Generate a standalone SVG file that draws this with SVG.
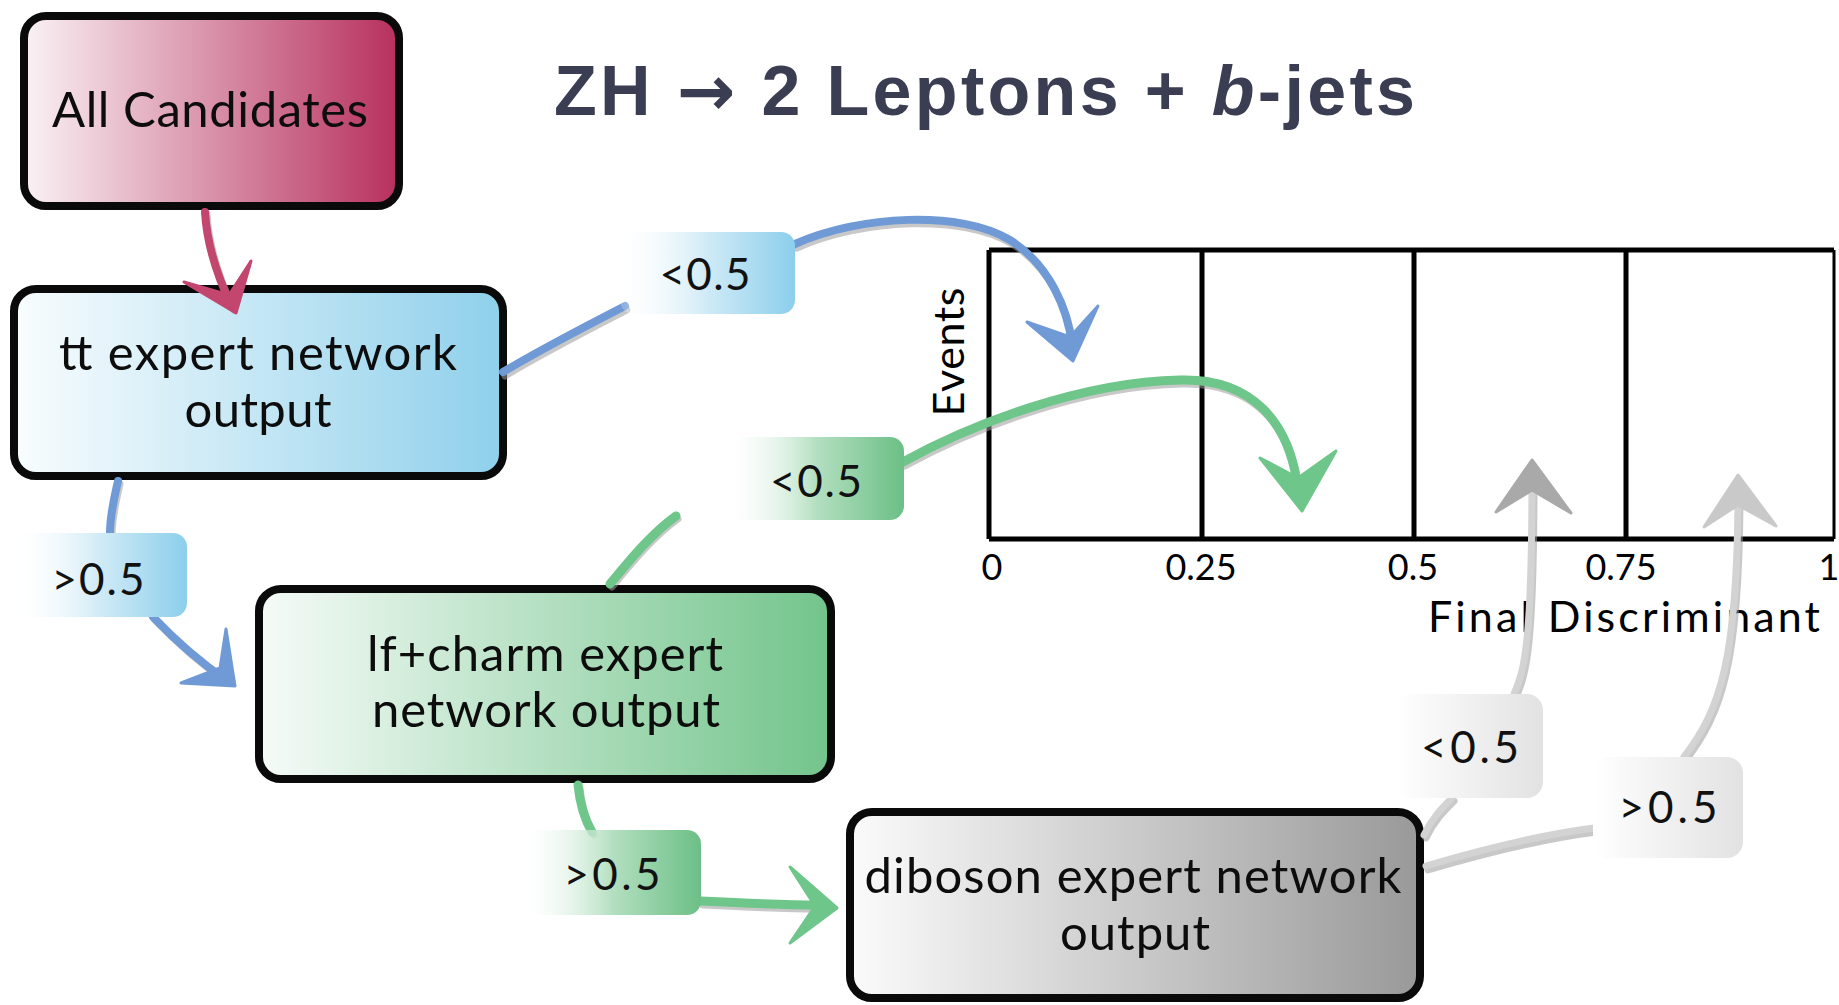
<svg xmlns="http://www.w3.org/2000/svg" width="1839" height="1005" viewBox="0 0 1839 1005">
<defs>
  <linearGradient id="gRed" x1="0" y1="0" x2="1" y2="0">
    <stop offset="0" stop-color="#faf2f5"/><stop offset="1" stop-color="#b7305d"/>
  </linearGradient>
  <linearGradient id="gBlue" x1="0" y1="0" x2="1" y2="0">
    <stop offset="0" stop-color="#f9fdfe"/><stop offset="1" stop-color="#8fd0eb"/>
  </linearGradient>
  <linearGradient id="gGreen" x1="0" y1="0" x2="1" y2="0">
    <stop offset="0" stop-color="#f6fbf8"/><stop offset="1" stop-color="#72c48b"/>
  </linearGradient>
  <linearGradient id="gGrey" x1="0" y1="0" x2="1" y2="0">
    <stop offset="0" stop-color="#fbfbfb"/><stop offset="1" stop-color="#999999"/>
  </linearGradient>
  <linearGradient id="pBlue" x1="0" y1="0" x2="1" y2="0">
    <stop offset="0" stop-color="#ffffff" stop-opacity="0.2"/><stop offset="0.5" stop-color="#cfeaf6"/><stop offset="1" stop-color="#8ccfec"/>
  </linearGradient>
  <linearGradient id="pGreen" x1="0" y1="0" x2="1" y2="0">
    <stop offset="0" stop-color="#ffffff" stop-opacity="0.2"/><stop offset="0.5" stop-color="#b3dfc0"/><stop offset="1" stop-color="#6cbf86"/>
  </linearGradient>
  <linearGradient id="pGrey" x1="0" y1="0" x2="1" y2="0">
    <stop offset="0" stop-color="#ffffff"/><stop offset="1" stop-color="#e2e2e2"/>
  </linearGradient>
</defs>
<style>
  .box { stroke: #0a0a0a; stroke-width: 8; }
  .bt { font-family: Lato, "Open Sans", sans-serif; font-size: 49px; fill: #0d0d0d; text-anchor: middle; }
  .pt { font-family: Lato, "Open Sans", sans-serif; font-size: 44px; fill: #111; text-anchor: middle; }
  .ax { stroke: #000; stroke-width: 5; fill: none; }
  .tk { font-family: Lato, "Open Sans", sans-serif; font-size: 36px; fill: #000; text-anchor: middle; }
  .al { font-family: Lato, "Open Sans", sans-serif; font-size: 43px; fill: #000; }
  .sh { fill: none; stroke: #9a9a9a; stroke-opacity: 0.55; stroke-linecap: round; stroke-width: 7; }
  .c { fill: none; stroke-linecap: round; }
  .red { stroke: #c3466f; stroke-width: 8; }
  .blue { stroke: #6f9ad6; stroke-width: 8; }
  .green { stroke: #6ec68a; stroke-width: 9; }
  .grey { stroke: #d3d3d3; stroke-width: 7; }
  .hred { fill: #c3466f; stroke: #c3466f; stroke-width: 3; stroke-linejoin: round; }
  .hblue { fill: #6f9ad6; stroke: #6f9ad6; stroke-width: 3; stroke-linejoin: round; }
  .hgreen { fill: #6ec68a; stroke: #6ec68a; stroke-width: 3; stroke-linejoin: round; }
  .hgrey1 { fill: #a9a9a9; stroke: #a9a9a9; stroke-width: 3; stroke-linejoin: round; }
  .hgrey2 { fill: #c9c9c9; stroke: #c9c9c9; stroke-width: 3; stroke-linejoin: round; }
</style>
<rect width="1839" height="1005" fill="#ffffff"/>

<text x="554" y="115" font-family="'Liberation Sans', Arial, sans-serif" font-weight="bold" font-size="70" fill="#3b3d52" textLength="861" lengthAdjust="spacing">ZH <tspan font-family="'DejaVu Sans', sans-serif">→</tspan> 2 Leptons + <tspan font-style="italic">b</tspan>-jets</text>

<g id="histogram">
  <path class="ax" d="M989,250 H1834 M989,250 V539 M989,539 H1834 M1202,250 V539 M1414,250 V539 M1626,250 V539"/>
  <path d="M1834,250 V539" stroke="#000" stroke-width="3"/>
  <text class="tk" x="992" y="580">0</text>
  <text class="tk" x="1201" y="580">0.25</text>
  <text class="tk" x="1413" y="580">0.5</text>
  <text class="tk" x="1621" y="580">0.75</text>
  <text class="tk" x="1829" y="580" text-anchor="end">1</text>
  <text class="al" x="1428" y="632" textLength="392" lengthAdjust="spacing">Final Discriminant</text>
  <text class="al" x="964" y="352" text-anchor="middle" transform="rotate(-90 964 352)" textLength="129" lengthAdjust="spacing">Events</text>
</g>

<g id="node-all">
  <rect class="box" x="24" y="16" width="375" height="190" rx="22" fill="url(#gRed)"/>
  <text class="bt" x="210" y="127" font-size="50" textLength="316" lengthAdjust="spacing">All Candidates</text>
</g>
<g id="node-tt">
  <rect class="box" x="14" y="289" width="489" height="187" rx="22" fill="url(#gBlue)"/>
  <text class="bt" x="258" y="370" textLength="398" lengthAdjust="spacing">tt expert network</text>
  <text class="bt" x="258" y="427" textLength="147" lengthAdjust="spacing">output</text>
</g>
<g id="node-lf">
  <rect class="box" x="259" y="589" width="572" height="190" rx="22" fill="url(#gGreen)"/>
  <text class="bt" x="545" y="671" textLength="356" lengthAdjust="spacing">lf+charm expert</text>
  <text class="bt" x="546" y="727" textLength="348" lengthAdjust="spacing">network output</text>
</g>
<g id="node-diboson">
  <rect class="box" x="850" y="812" width="570" height="186" rx="22" fill="url(#gGrey)"/>
  <text class="bt" x="1133" y="893" textLength="537" lengthAdjust="spacing">diboson expert network</text>
  <text class="bt" x="1135" y="950" textLength="150" lengthAdjust="spacing">output</text>
</g>

<g id="connectors">
  <!-- shadows -->
  <path class="sh" d="M207,214 C209,248 221,282 234,310"/>
  <path class="sh" d="M505,376 C545,352 592,328 627,310"/>
  <path class="sh" d="M797,248 C862,219 962,214 1012,244 C1052,269 1070,314 1074,350"/>
  <path class="sh" d="M120,484 C116,502 112,517 112,536"/>
  <path class="sh" d="M155,620 C177,643 202,665 228,683"/>
  <path class="sh" d="M612,587 C632,563 652,538 678,519"/>
  <path class="sh" d="M905,466 C972,429 1082,386 1182,384 C1252,382 1292,424 1300,495"/>
  <path class="sh" d="M580,788 C582,808 587,823 594,835"/>
  <path class="sh" d="M703,905 C742,907 782,909 818,909"/>
  <path class="sh" d="M1426,838 C1434,821 1444,811 1454,801"/>
  <path class="sh" d="M1516,697 C1527,673 1534,643 1534,478"/>
  <path class="sh" d="M1428,870 C1482,854 1542,839 1596,832"/>
  <path class="sh" d="M1686,760 C1722,713 1740,663 1740,490"/>

  <!-- All -> tt -->
  <path class="c red" d="M205,212 C207,246 219,280 232,307"/>
  <polygon class="hred" points="184,282 236,313 251,261 229,295"/>

  <!-- tt <0.5 -->
  <path class="c blue" d="M503,372 C543,348 590,324 625,306"/>
  <path class="c blue" d="M795,244 C860,215 960,210 1010,240 C1050,265 1068,310 1072,345"/>
  <polygon class="hblue" points="1027,322 1073,361 1098,306 1070,337"/>

  <!-- tt >0.5 -->
  <path class="c blue" d="M118,481 C114,499 110,514 110,533"/>
  <path class="c blue" d="M153,617 C175,640 200,662 226,680"/>
  <polygon class="hblue" points="226,629 235,686 181,683 220,668"/>

  <!-- lf <0.5 -->
  <path class="c green" d="M610,584 C630,560 650,535 676,516"/>
  <path class="c green" d="M903,462 C970,425 1080,382 1180,380 C1250,378 1290,420 1298,490"/>
  <polygon class="hgreen" points="1260,458 1302,511 1336,451 1298,478"/>

  <!-- lf >0.5 -->
  <path class="c green" d="M578,785 C580,805 585,820 592,832"/>
  <path class="c green" d="M701,901 C740,903 780,905 818,905"/>
  <polygon class="hgreen" points="790,867 837,908 790,943 815,906"/>

  <!-- diboson <0.5 -->
  <path class="c grey" d="M1424,835 C1432,818 1442,808 1452,798"/>
  <path class="c grey" d="M1514,694 C1525,670 1532,640 1532,475"/>
  <polygon class="hgrey1" points="1496,512 1532,460 1571,513 1532,490"/>

  <!-- diboson >0.5 -->
  <path class="c grey" d="M1426,866 C1480,850 1540,835 1594,828"/>
  <path class="c grey" d="M1684,757 C1720,710 1738,660 1738,488"/>
  <polygon class="hgrey2" points="1704,527 1738,475 1776,526 1738,505"/>
</g>

<g id="labels">
  <g id="lbl-tt-lt">
    <rect x="620" y="232" width="175" height="82" rx="14" fill="url(#pBlue)"/>
    <text class="pt" x="705" y="290" textLength="91" lengthAdjust="spacing">&lt;0.5</text>
  </g>
  <g id="lbl-tt-gt">
    <rect x="15" y="533" width="172" height="84" rx="14" fill="url(#pBlue)"/>
    <text class="pt" x="98" y="595" textLength="93" lengthAdjust="spacing">&gt;0.5</text>
  </g>
  <g id="lbl-lf-lt">
    <rect x="730" y="437" width="174" height="83" rx="14" fill="url(#pGreen)"/>
    <text class="pt" x="816" y="497" textLength="92" lengthAdjust="spacing">&lt;0.5</text>
  </g>
  <g id="lbl-lf-gt">
    <rect x="525" y="830" width="176" height="85" rx="14" fill="url(#pGreen)"/>
    <text class="pt" x="612" y="890" textLength="97" lengthAdjust="spacing">&gt;0.5</text>
  </g>
  <g id="lbl-db-lt">
    <rect x="1396" y="694" width="147" height="104" rx="16" fill="url(#pGrey)"/>
    <text class="pt" x="1470" y="763" textLength="98" lengthAdjust="spacing">&lt;0.5</text>
  </g>
  <g id="lbl-db-gt">
    <rect x="1593" y="757" width="150" height="101" rx="16" fill="url(#pGrey)"/>
    <text class="pt" x="1668" y="823" textLength="99" lengthAdjust="spacing">&gt;0.5</text>
  </g>
</g>
</svg>
